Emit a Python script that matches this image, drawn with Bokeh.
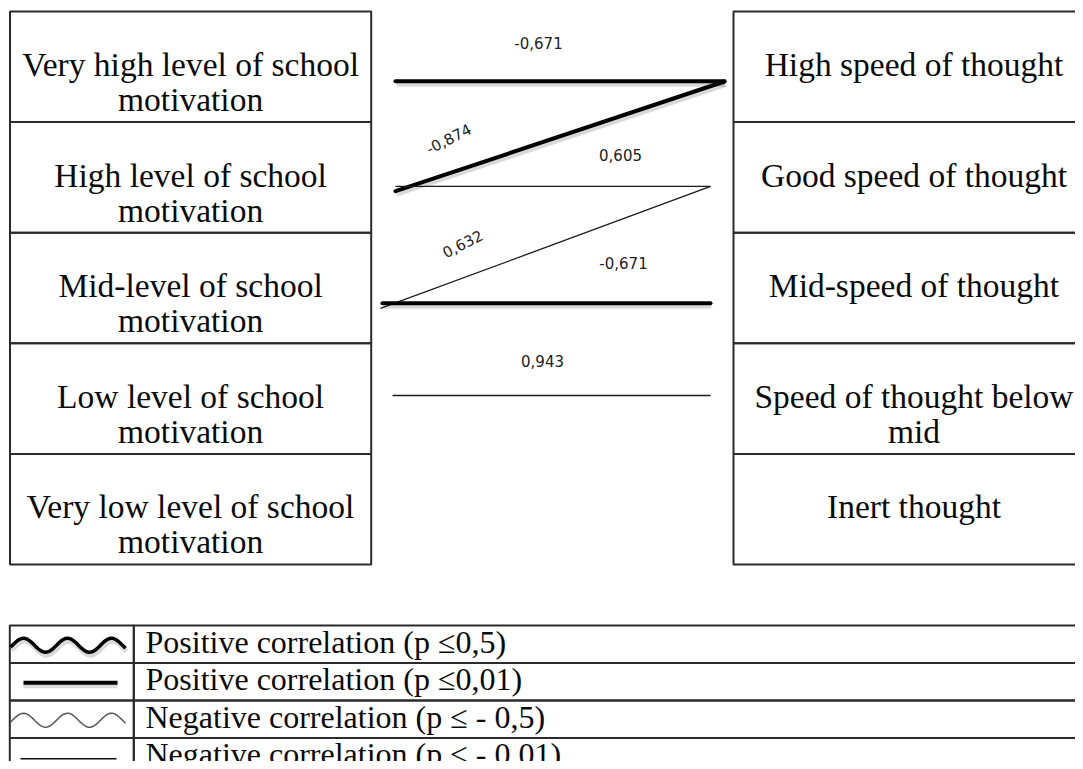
import numpy as np
from bokeh.plotting import figure
from bokeh.models import Range1d
from bokeh.core.properties import value
from bokeh.embed import file_html
from bokeh.resources import INLINE

# ---------------- data ----------------
left_labels = [
    "Very high level of school\nmotivation",
    "High level of school\nmotivation",
    "Mid-level of school\nmotivation",
    "Low level of school\nmotivation",
    "Very low level of school\nmotivation",
]
right_labels = [
    "High speed of thought",
    "Good speed of thought",
    "Mid-speed of thought",
    "Speed of thought below\nmid",
    "Inert thought",
]
link_left = [0, 1, 1, 2, 2, 3]
link_right = [0, 0, 1, 1, 2, 3]
link_r = ["-0,671", "-0,874", "0,605", "0,632", "-0,671", "0,943"]
link_strong = [True, True, False, False, True, False]

legend_labels = [
    "Positive correlation (p \u22640,5)",
    "Positive correlation (p \u22640,01)",
    "Negative correlation (p \u2264  - 0,5)",
    "Negative correlation (p \u2264  - 0,01)",
]
legend_shape = ["wave", "line", "wave", "line"]
legend_strong = [True, True, False, False]

# ---------------- layout / style ----------------
BOX_TOP, ROW_H = 11.0, 110.6
LX0, LX1 = 9.5, 370.7
RX0, RX1 = 733.0, 1094.0
# where each link meets a row (fraction of the row height) and x extents
link_fy_left = [0.63, 0.625, 0.582, 0.685, 0.637, 0.472]
link_fy_right = [0.63, 0.633, 0.582, 0.582, 0.637, 0.472]
link_x0 = [395, 395, 395, 380, 382, 392]
link_x1 = [724, 724, 710, 710, 710, 710]
lab_x = [538, 448, 620, 462, 623, 542]
lab_y = [42, 138, 154, 243, 262, 360]
lab_angle = [0, 27, 0, 27, 0, 0]

LEG_TOP, LEG_ROW = 625.0, 37.5
LEG_X0, LEG_DIV, LEG_X1 = 9.3, 133.3, 1100

SERIF = value("Liberation Serif")
SANS = value("DejaVu Sans")
BORDER = "#2b2b2b"

W, H = 1075, 761
p = figure(width=W, height=H, x_range=Range1d(0, W), y_range=Range1d(H, 0),
           output_backend="svg", toolbar_location=None, min_border=0)
p.axis.visible = False
p.grid.visible = False
p.outline_line_color = None
p.background_fill_color = "white"
p.border_fill_color = "white"

# boxes
n = len(left_labels)
tops = [BOX_TOP + i * ROW_H for i in range(n)]
bots = [t + ROW_H for t in tops]
p.quad(left=[LX0] * n, right=[LX1] * n, top=tops, bottom=bots,
       fill_color=None, line_color=BORDER, line_width=2)
p.quad(left=[RX0] * n, right=[RX1] * n, top=tops, bottom=bots,
       fill_color=None, line_color=BORDER, line_width=2)

def box_text(labels, xc):
    xs, ys, ts = [], [], []
    for i, lab in enumerate(labels):
        for k, line in enumerate(lab.split("\n")):
            xs.append(xc)
            ys.append(tops[i] + 53 + 35 * k)
            ts.append(line)
    p.text(x=xs, y=ys, text=ts, text_align="center", text_baseline="alphabetic",
           text_font=SERIF, text_font_size="33.5px", text_color="#0a0a0a")

box_text(left_labels, (LX0 + LX1) / 2)
box_text(right_labels, (RX0 + 1094) / 2)

# links
for i in range(len(link_r)):
    y0 = BOX_TOP + (link_left[i] + link_fy_left[i]) * ROW_H
    y1 = BOX_TOP + (link_right[i] + link_fy_right[i]) * ROW_H
    xs = [link_x0[i], link_x1[i]]
    ys = [y0, y1]
    if link_strong[i]:
        p.line(x=[x + 1 for x in xs], y=[y + 3 for y in ys], line_color="#000000",
               line_alpha=0.15, line_width=5)
        p.line(x=xs, y=ys, line_color="#000000", line_width=4, line_cap="round")
    else:
        p.line(x=xs, y=ys, line_color="#1a1a1a", line_width=1.3)

for i in range(len(link_r)):
    p.text(x=[lab_x[i]], y=[lab_y[i]], text=[link_r[i]], angle=[lab_angle[i]], angle_units="deg",
           text_align="center", text_baseline="alphabetic", text_font=SANS,
           text_font_size="15px", text_color="#222222")

# legend table
m = len(legend_labels)
ltops = [LEG_TOP + j * LEG_ROW for j in range(m)]
lbots = [t + LEG_ROW for t in ltops]
p.quad(left=[LEG_X0] * m, right=[LEG_DIV] * m, top=ltops, bottom=lbots,
       fill_color=None, line_color=BORDER, line_width=2)
p.quad(left=[LEG_DIV] * m, right=[LEG_X1] * m, top=ltops, bottom=lbots,
       fill_color=None, line_color=BORDER, line_width=2)
p.text(x=[145] * m, y=[t + 16 for t in ltops], text=legend_labels, text_align="left",
       text_baseline="alphabetic", text_font=SERIF, text_font_size="32px", text_color="#0a0a0a")

for j in range(m):
    yc = ltops[j] + LEG_ROW / 2
    if legend_shape[j] == "wave":
        wx = np.linspace(10, 125, 80)
        wy = yc + 1 - 7 * np.sin(2 * np.pi * (wx - 12) / 44)
        if legend_strong[j]:
            p.line(x=wx + 1, y=wy + 3, line_color="#000000", line_alpha=0.15, line_width=5)
            p.line(x=wx, y=wy, line_color="#000000", line_width=3.5)
        else:
            p.line(x=wx, y=wy, line_color="#555555", line_width=1.5)
    else:
        if legend_strong[j]:
            p.line(x=[23, 117], y=[yc + 4, yc + 4], line_color="#000000", line_alpha=0.15, line_width=5)
            p.line(x=[23, 117], y=[yc + 1, yc + 1], line_color="#000000", line_width=4)
        else:
            p.line(x=[20, 116], y=[yc + 2, yc + 2], line_color="#111111", line_width=1.3)

open("out.html", "w").write(file_html(p, INLINE))
